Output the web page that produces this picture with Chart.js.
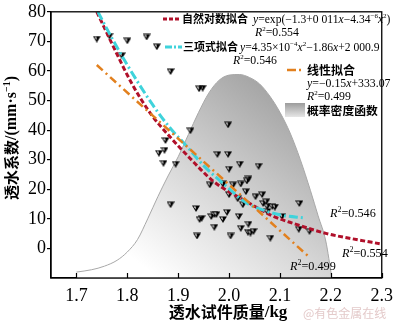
<!DOCTYPE html>
<html>
<head>
<meta charset="utf-8">
<script src="https://cdn.jsdelivr.net/npm/chart.js@4.4.1/dist/chart.umd.min.js"></script>
<style>
  body { margin: 0; background: #fff; }
</style>
</head>
<body>
<canvas id="permChart" width="400" height="325"></canvas>
<script>
// axis ticks
const xTicks = [1.7, 1.8, 1.9, 2.0, 2.1, 2.2, 2.3]
const yTicks = [0, 10, 20, 30, 40, 50, 60, 70, 80]

// measured specimens: mass (kg) and permeability coefficient (mm/s)
const sampleMass = [1.740, 1.765, 1.800, 1.838, 1.858, 1.789, 1.885, 1.948, 1.941, 1.924,
  1.998, 1.875, 1.873, 1.862, 1.871, 1.895, 1.977, 1.998, 2.000, 2.021,
  2.058, 2.038, 2.035, 1.962, 1.988, 2.008, 2.023, 2.033, 2.000, 2.017,
  2.027, 2.052, 2.065, 2.067, 2.073, 2.075, 2.085, 2.090, 2.075, 2.138,
  2.104, 1.885, 1.935, 1.946, 1.942, 1.965, 1.971, 1.975, 1.996, 1.988,
  2.019, 1.971, 2.038, 2.023, 2.037, 2.042, 2.048, 1.937, 2.003, 2.081,
  2.137, 2.158]
const sampleCoef = [70.8, 71.8, 70.2, 71.5, 68.2, 65.2, 59.8, 54.2, 54.0, 39.8,
  41.8, 36.5, 33.2, 32.2, 28.8, 28.5, 31.8, 31.8, 26.8, 28.5,
  27.8, 23.5, 22.8, 21.5, 21.8, 21.5, 21.8, 19.2, 18.2, 16.8,
  14.8, 17.5, 18.2, 15.2, 15.8, 14.2, 14.2, 14.0, 12.5, 15.2,
  10.8, 14.8, 13.5, 10.2, 9.8, 10.8, 11.5, 11.5, 12.2, 9.8,
  10.8, 7.2, 8.2, 6.8, 5.5, 5.2, 5.8, 4.2, 4.2, 3.5,
  6.5, 5.8]

// natural-log (exp) fit
const expFitX = [1.740, 1.769, 1.808, 1.846, 1.885, 1.923, 1.969, 2.033, 2.085, 2.129, 2.192, 2.250, 2.296]
const expFitY = [80, 69.5, 56, 45.5, 37.5, 30.5, 22.7, 16, 11, 8.3, 5.0, 3.0, 1.6]

// quadratic fit
const polyFitX = [1.742, 1.770, 1.800, 1.850, 1.890, 1.912, 1.950, 1.998, 2.033, 2.071, 2.104, 2.148]
const polyFitY = [80, 71, 62, 48.5, 39.5, 35.5, 28, 20.5, 15.5, 12.7, 11.2, 10.3]

// linear fit
const linFitX = [1.740, 2.158]
const linFitY = [62, -3]

// probability density outline (scaled onto the coefficient axis)
const pdfX = [1.700, 1.730, 1.755, 1.780, 1.800, 1.820, 1.840, 1.860, 1.880, 1.900,
  1.920, 1.940, 1.960, 1.980, 2.000, 2.020, 2.040, 2.060, 2.080, 2.100,
  2.120, 2.140, 2.160, 2.175, 2.190, 2.202]
const pdfY = [-8.0, -7.2, -6.0, -4.0, -1.2, 3.0, 10.0, 17.5, 24.5, 31.0,
  38.5, 46.0, 52.5, 56.8, 58.6, 58.8, 57.8, 55.6, 51.5, 46.0,
  39.0, 30.0, 19.5, 11.0, 2.5, -10]

const zip = (xs, ys) => xs.map((x, i) => ({ x: x, y: ys[i] }))

const SERIF = '"Liberation Serif", "Times New Roman", serif'
const CJK = '"Noto Sans CJK SC", sans-serif'

// small shaded down-triangle used as the point marker
function makeMarker(){
  const c = document.createElement('canvas')
  c.width = 8; c.height = 7
  const g = c.getContext('2d')
  g.fillStyle = '#000'
  g.beginPath(); g.moveTo(0, 0.5); g.lineTo(8, 0.5); g.lineTo(4, 7); g.closePath(); g.fill()
  g.fillStyle = '#fff'
  g.beginPath(); g.moveTo(1.6, 1.4); g.lineTo(3.6, 1.4); g.lineTo(3.8, 4.6); g.closePath(); g.fill()
  return c
}

function pdfGradient(context){
  const chart = context.chart
  const area = chart.chartArea
  if (!area) return '#ccc'
  const xs = chart.scales.x, ys = chart.scales.y
  const grad = chart.ctx.createLinearGradient(xs.getPixelForValue(2.13), ys.getPixelForValue(50),
    xs.getPixelForValue(1.86), ys.getPixelForValue(-10))
  grad.addColorStop(0, '#a2a2a2')
  grad.addColorStop(0.55, '#d8d8d8')
  grad.addColorStop(1, '#ffffff')
  return grad
}

// draw a run of mixed text pieces: c = CJK bold, n = serif, i = italic serif, s = superscript
function drawRuns(ctx, runs, x, y, size){
  size = size || 12
  const fonts = {
    c: 'bold ' + (size - 0.5) + 'px ' + CJK,
    n: size + 'px ' + SERIF,
    i: 'italic ' + size + 'px ' + SERIF,
    s: Math.round(size * 0.62) + 'px ' + SERIF
  }
  let cx = x
  ctx.textAlign = 'left'
  ctx.textBaseline = 'alphabetic'
  for (const r of runs){
    ctx.font = fonts[r[1]]
    ctx.fillText(r[0], cx, r[1] === 's' ? y - 5 : y)
    cx += ctx.measureText(r[0]).width
  }
}

function sampleLine(ctx, x1, x2, y, color, dash, width){
  ctx.save()
  ctx.strokeStyle = color
  ctx.lineWidth = width
  ctx.setLineDash(dash)
  ctx.beginPath(); ctx.moveTo(x1, y); ctx.lineTo(x2, y); ctx.stroke()
  ctx.restore()
}

const decorations = {
  id: 'decorations',
  afterDraw(chart){
    const ctx = chart.ctx
    const a = chart.chartArea
    const xs = chart.scales.x
    ctx.save()
    ctx.fillStyle = '#000'
    ctx.strokeStyle = '#000'
    ctx.lineWidth = 1.3
    ctx.strokeRect(a.left, a.top, a.right - a.left, a.bottom - a.top)
    // x ticks point inward
    ctx.lineWidth = 1.2
    for (const v of xTicks){
      const px = Math.round(xs.getPixelForValue(v)) + 0.5
      ctx.beginPath(); ctx.moveTo(px, a.bottom); ctx.lineTo(px, a.bottom - 5); ctx.stroke()
    }

    // axis titles
    ctx.save()
    ctx.translate(11, 138)
    ctx.rotate(-Math.PI / 2)
    const t1 = '透水系数'
    const t2 = '/(mm·s'
    ctx.font = 'bold 15px ' + CJK; const w1 = ctx.measureText(t1).width
    ctx.font = 'bold 16px ' + SERIF; const w2 = ctx.measureText(t2).width
    ctx.font = 'bold 10px ' + SERIF; const w3 = ctx.measureText('−1').width
    ctx.font = 'bold 16px ' + SERIF; const w4 = ctx.measureText(')').width
    let sx = -(w1 + w2 + w3 + w4) / 2
    ctx.textBaseline = 'middle'
    ctx.textAlign = 'left'
    ctx.font = 'bold 15px ' + CJK; ctx.fillText(t1, sx, 0); sx += w1
    ctx.font = 'bold 16px ' + SERIF; ctx.fillText(t2, sx, 1); sx += w2
    ctx.font = 'bold 10px ' + SERIF; ctx.fillText('−1', sx, -4); sx += w3
    ctx.font = 'bold 16px ' + SERIF; ctx.fillText(')', sx, 1)
    ctx.restore()

    ctx.textBaseline = 'middle'
    ctx.textAlign = 'left'
    const xa = '透水试件质量'
    ctx.font = 'bold 16px ' + CJK
    const xw1 = ctx.measureText(xa).width
    ctx.font = 'bold 17px ' + SERIF
    const xw2 = ctx.measureText('/kg').width
    const xx = 228 - (xw1 + xw2) / 2
    ctx.font = 'bold 16px ' + CJK; ctx.fillText(xa, xx, 312)
    ctx.font = 'bold 17px ' + SERIF; ctx.fillText('/kg', xx + xw1, 313)

    // legend
    sampleLine(ctx, 163, 180, 19, '#b0102a', [4, 2], 3)
    drawRuns(ctx, [['自然对数拟合', 'c']], 182, 23, 11.5)
    drawRuns(ctx, [['y', 'i'], ['=exp(−1.3+0 011', 'n'], ['x', 'i'], ['−4.34', 'n'], ['−6', 's'], ['x', 'i'], ['2', 's'], [')', 'n']], 253, 23, 11.6)
    drawRuns(ctx, [['R', 'i'], ['2', 's'], ['=0.554', 'n']], 255, 36, 11.8)
    sampleLine(ctx, 165, 182, 47, '#3fd3db', [7, 2, 2, 2], 3)
    drawRuns(ctx, [['三项式拟合', 'c']], 183, 51, 11.5)
    drawRuns(ctx, [['y', 'i'], ['=4.35×10', 'n'], ['−4', 's'], ['x', 'i'], ['2', 's'], ['−1.86', 'n'], ['x', 'i'], ['+2 000.9', 'n']], 240, 51, 11.6)
    drawRuns(ctx, [['R', 'i'], ['2', 's'], ['=0.546', 'n']], 233, 64, 11.8)
    sampleLine(ctx, 287, 296, 70, '#e2801e', [], 2.5)
    sampleLine(ctx, 299, 301, 70, '#e2801e', [], 2.5)
    drawRuns(ctx, [['线性拟合', 'c']], 307, 75, 12.5)
    drawRuns(ctx, [['y', 'i'], ['=−0.15', 'n'], ['x', 'i'], ['+333.07', 'n']], 307, 87, 11.8)
    drawRuns(ctx, [['R', 'i'], ['2', 's'], ['=0.499', 'n']], 307, 100, 11.8)
    const sw = ctx.createLinearGradient(0, 103, 0, 117)
    sw.addColorStop(0, '#9c9c9c')
    sw.addColorStop(1, '#e6e6e6')
    ctx.fillStyle = sw
    ctx.fillRect(285, 103, 20, 14)
    ctx.fillStyle = '#000'
    drawRuns(ctx, [['概率密度函数', 'c']], 307, 115, 12.3)

    // fit quality next to each curve
    drawRuns(ctx, [['R', 'i'], ['2', 's'], ['=0.546', 'n']], 330, 217, 12.2)
    drawRuns(ctx, [['R', 'i'], ['2', 's'], ['=0.554', 'n']], 342, 257, 12.2)
    drawRuns(ctx, [['R', 'i'], ['2', 's'], ['=0.499', 'n']], 290, 270, 12.2)

    ctx.fillStyle = '#e4caca'
    ctx.font = '12px ' + CJK
    ctx.textBaseline = 'middle'
    ctx.fillText('@有色金属在线', 303, 313)
    ctx.restore()
  }
}

const marker = makeMarker()

new Chart(document.getElementById('permChart'), {
  type: 'scatter',
  data: {
    datasets: [
      {
        type: 'line', data: zip(linFitX, linFitY), borderColor: '#e2801e', borderWidth: 2.5,
        borderDash: [8, 4, 2, 4], pointRadius: 0, fill: false
      },
      {
        type: 'line', data: zip(polyFitX, polyFitY), borderColor: '#3fd3db', borderWidth: 3,
        borderDash: [9, 3, 2, 3], pointRadius: 0, fill: false, cubicInterpolationMode: 'monotone'
      },
      {
        type: 'line', data: zip(expFitX, expFitY), borderColor: '#b0102a', borderWidth: 3,
        borderDash: [5, 2.5], pointRadius: 0, fill: false, cubicInterpolationMode: 'monotone'
      },
      {
        data: zip(sampleMass, sampleCoef), pointStyle: marker, pointRadius: 4
      },
      {
        type: 'line', data: zip(pdfX, pdfY), borderColor: '#a8a8a8', borderWidth: 1,
        backgroundColor: pdfGradient, fill: 'start', pointRadius: 0, cubicInterpolationMode: 'monotone'
      }
    ]
  },
  options: {
    responsive: false,
    animation: false,
    events: [],
    layout: { padding: { left: 0, top: 6, right: 10, bottom: 0 } },
    plugins: { legend: { display: false }, tooltip: { enabled: false } },
    scales: {
      x: {
        type: 'linear', min: 1.65, max: 2.3,
        afterFit: s => { s.height = 47 },
        afterBuildTicks: s => { s.ticks = xTicks.map(v => ({ value: v })) },
        grid: { display: true, drawOnChartArea: false, drawTicks: false },
        border: { display: true, color: '#000', width: 1.3 },
        ticks: { padding: 7, color: '#000', font: { family: SERIF, size: 18 }, callback: v => v.toFixed(1) }
      },
      y: {
        type: 'linear', min: -10, max: 80,
        afterFit: s => { s.width = 51 },
        afterBuildTicks: s => { s.ticks = yTicks.map(v => ({ value: v })) },
        grid: { display: true, drawOnChartArea: false, drawTicks: true, tickLength: 4, color: '#000', lineWidth: 1.2 },
        border: { display: true, color: '#000', width: 1.3 },
        ticks: { padding: 1, color: '#000', font: { family: SERIF, size: 18 } }
      }
    }
  },
  plugins: [decorations]
})
</script>
</body>
</html>
